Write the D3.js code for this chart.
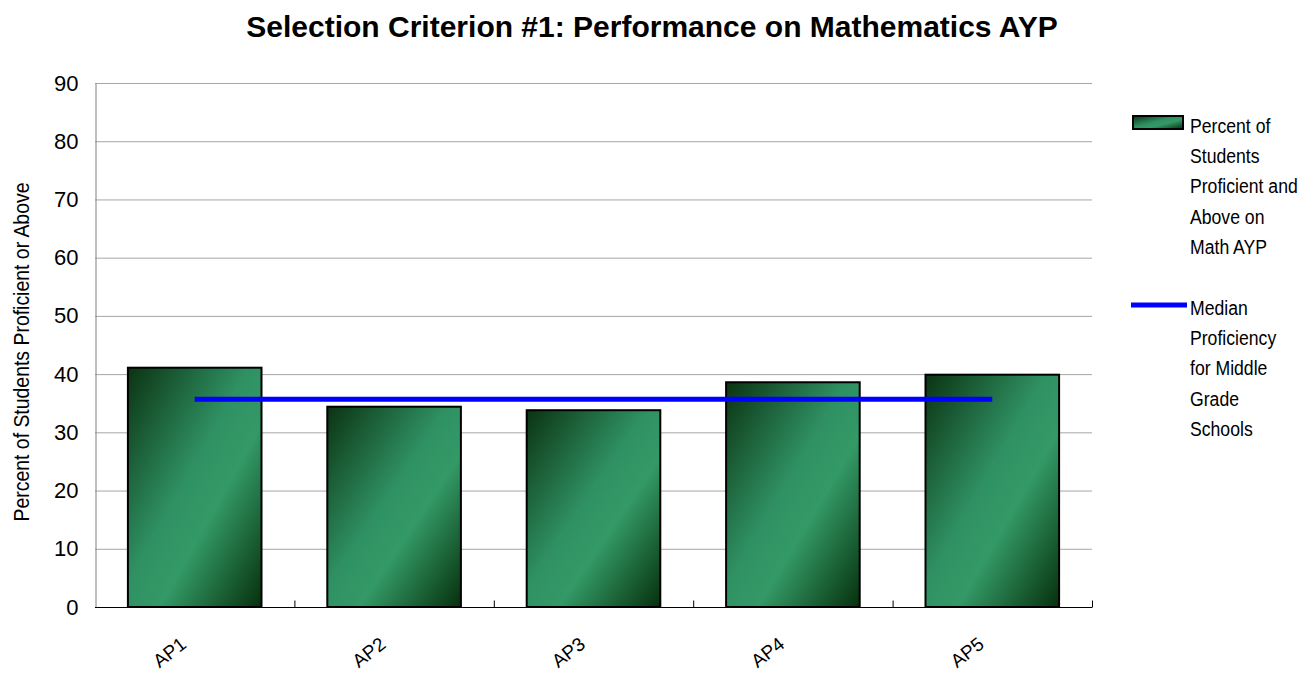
<!DOCTYPE html>
<html>
<head>
<meta charset="utf-8">
<script src="https://cdn.jsdelivr.net/npm/d3@7"></script>
<style>
  body { margin: 0; background: #fff; }
  svg { display: block; }
  text { font-family: "Liberation Sans", Arial, sans-serif; fill: #000; }
</style>
</head>
<body>
<div id="chart"></div>
<script>
// data
var categories = ["AP1", "AP2", "AP3", "AP4", "AP5"];
var percentProficient = [41.1, 34.4, 33.8, 38.6, 39.9];
var medianProficiency = [35.7, 35.7, 35.7, 35.7, 35.7];
var yTicks = [0, 10, 20, 30, 40, 50, 60, 70, 80, 90];
var barLegend = ["Percent of", "Students", "Proficient and", "Above on", "Math AYP"];
var lineLegend = ["Median", "Proficiency", "for Middle", "Grade", "Schools"];

var width = 1302, height = 674;
var margin = { top: 83, right: 210, bottom: 67, left: 95 };

var svg = d3.select("#chart").append("svg")
    .attr("width", width)
    .attr("height", height);

var defs = svg.append("defs");
var grad = defs.append("linearGradient")
    .attr("id", "barGrad")
    .attr("x1", "0%").attr("y1", "0%")
    .attr("x2", "100%").attr("y2", "100%");
grad.append("stop").attr("offset", "0%").attr("stop-color", "#0b3312");
grad.append("stop").attr("offset", "45%").attr("stop-color", "#2f9163");
grad.append("stop").attr("offset", "62%").attr("stop-color", "#339966");
grad.append("stop").attr("offset", "100%").attr("stop-color", "#06300c");

var x = d3.scaleBand()
    .domain(categories)
    .range([margin.left, width - margin.right])
    .paddingInner(0.33)
    .paddingOuter(0.165);

var xOuter = d3.scaleBand()
    .domain(categories)
    .range([margin.left, width - margin.right]);

var y = d3.scaleLinear()
    .domain([0, 90])
    .range([height - margin.bottom, margin.top]);

// title
svg.append("text")
    .attr("x", 652)
    .attr("y", 37)
    .attr("text-anchor", "middle")
    .style("font-size", "30px")
    .style("font-weight", "bold")
    .text("Selection Criterion #1: Performance on Mathematics AYP");

// gridlines
svg.append("g")
    .selectAll("line")
    .data(yTicks.filter(function (d) { return d > 0; }))
    .enter().append("line")
    .attr("x1", margin.left)
    .attr("x2", width - margin.right)
    .attr("y1", function (d) { return y(d) + 0.5; })
    .attr("y2", function (d) { return y(d) + 0.5; })
    .attr("stroke", "#a6a6a6")
    .attr("stroke-width", 1);

// y axis
var yAxis = svg.append("g")
    .attr("transform", "translate(" + (margin.left + 0.5) + ",0)")
    .call(d3.axisLeft(y).tickValues(yTicks).tickSize(0).tickPadding(17));
yAxis.select(".domain").attr("stroke", "#808080");
yAxis.selectAll("text")
    .style("font-family", "\"Liberation Sans\", Arial, sans-serif")
    .style("font-size", "22px")
    .attr("fill", "#000");

svg.append("text")
    .attr("transform", "translate(29,352) rotate(-90)")
    .attr("text-anchor", "middle")
    .attr("textLength", 339)
    .attr("lengthAdjust", "spacingAndGlyphs")
    .style("font-size", "22px")
    .text("Percent of Students Proficient or Above");

// bars
svg.append("g")
    .selectAll("rect")
    .data(categories)
    .enter().append("rect")
    .attr("x", function (d) { return x(d); })
    .attr("y", function (d, i) { return y(percentProficient[i]); })
    .attr("width", x.bandwidth())
    .attr("height", function (d, i) { return y(0) - y(percentProficient[i]); })
    .attr("fill", "url(#barGrad)")
    .attr("stroke", "#000")
    .attr("stroke-width", 2);

// x axis
var xAxis = svg.append("g")
    .attr("transform", "translate(0," + (y(0) + 0.5) + ")");
xAxis.append("line")
    .attr("x1", margin.left)
    .attr("x2", width - margin.right)
    .attr("stroke", "#000");
xAxis.selectAll(".tk")
    .data(categories)
    .enter().append("line")
    .attr("class", "tk")
    .attr("x1", function (d) { return xOuter(d) + xOuter.bandwidth() + 0.5; })
    .attr("x2", function (d) { return xOuter(d) + xOuter.bandwidth() + 0.5; })
    .attr("y1", 0)
    .attr("y2", -7)
    .attr("stroke", "#000");
xAxis.selectAll(".lbl")
    .data(categories)
    .enter().append("text")
    .attr("class", "lbl")
    .attr("text-anchor", "end")
    .attr("transform", function (d) {
        return "translate(" + (x(d) + x.bandwidth() / 2 - 7) + ",39) rotate(-38)";
    })
    .style("font-size", "19px")
    .text(function (d) { return d; });

// median line
var line = d3.line()
    .x(function (d, i) { return x(categories[i]) + x.bandwidth() / 2; })
    .y(function (d) { return y(d); });
svg.append("path")
    .datum(medianProficiency)
    .attr("d", line)
    .attr("fill", "none")
    .attr("stroke", "#0000ff")
    .attr("stroke-width", 5);

// legend
var lg = svg.append("g");
lg.append("rect")
    .attr("x", 1133).attr("y", 116)
    .attr("width", 50).attr("height", 13)
    .attr("fill", "url(#barGrad)")
    .attr("stroke", "#000").attr("stroke-width", 2);
lg.selectAll(".l1")
    .data(barLegend)
    .enter().append("text")
    .attr("transform", function (d, i) {
        return "translate(1190," + (133 + i * 30.2) + ") scale(0.84,1)";
    })
    .style("font-size", "21px")
    .text(function (d) { return d; });
lg.append("line")
    .attr("x1", 1131).attr("x2", 1187)
    .attr("y1", 305).attr("y2", 305)
    .attr("stroke", "#0000ff").attr("stroke-width", 5);
lg.selectAll(".l2")
    .data(lineLegend)
    .enter().append("text")
    .attr("transform", function (d, i) {
        return "translate(1190," + (315 + i * 30.2) + ") scale(0.84,1)";
    })
    .style("font-size", "21px")
    .text(function (d) { return d; });
</script>
</body>
</html>
